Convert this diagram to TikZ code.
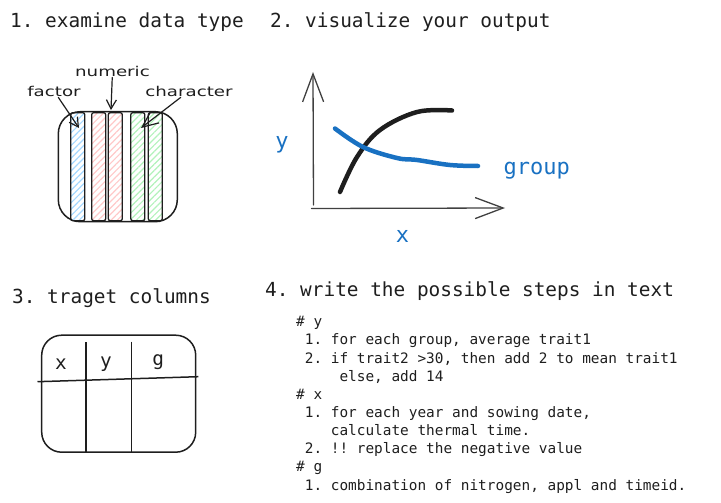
\documentclass[tikz,border=0pt]{standalone}
\usepackage{fontspec}
\setmonofont{DejaVu Sans Mono}
\newfontfamily\handfont[FakeStretch=1.35]{DejaVu Sans}
\usepackage{tikz}
\usetikzlibrary{positioning,arrows.meta,patterns.meta}
\definecolor{ink}{HTML}{1E1E1E}
\definecolor{groupblue}{HTML}{1971C2}
\definecolor{hatchblue}{HTML}{A5D8FF}
\definecolor{hatchred}{HTML}{FFC9C9}
\definecolor{hatchgreen}{HTML}{B2F2BB}

\begin{document}
\begin{tikzpicture}[
        x=1pt, y=-1pt,
        title/.style={anchor=base west, inner sep=0pt, text=ink,
          font=\ttfamily\fontsize{19.4}{23}\selectfont},
        code/.style={anchor=base west, inner sep=0pt, text=ink,
          font=\ttfamily\fontsize{14.4}{18}\selectfont},
        hand/.style={inner sep=1pt, text=ink,
          font=\handfont\fontsize{13.5}{15}\selectfont},
        bluelab/.style={anchor=base, inner sep=0pt, text=groupblue,
          font=\ttfamily\fontsize{22}{26}\selectfont},
        frame/.style={draw=ink, line width=1.5pt, inner sep=0pt},
        stripe/.style={
          draw=ink,
          line width=1.3pt,
          rounded corners=2pt,
          minimum width=14pt,
          minimum height=108pt,
          inner sep=0pt
        },
        arr/.style={draw=ink, line width=1.2pt, line cap=round,
          -{Straight Barb[length=9pt,width=10pt]}},
        axis/.style={draw=ink!85, line width=1.3pt, line cap=round,
          -{Straight Barb[length=28pt,width=21pt]}},
        curve/.style={line width=4.5pt, line cap=round, line join=round},
        rule/.style={ink, line width=1.5pt}
      ]
      \useasboundingbox (0,0) rectangle (721,503);

      % Titles
      \node[title] (t1) at (10,28)    {1. examine data type};
      \node[title] (t2) at (270,28)   {2. visualize your output};
      \node[title] (t3) at (12,303.5) {3. traget columns};
      \node[title] (t4) at (265,296)  {4. write the possible steps in text};

      % 1. data frame with typed columns
      \node[frame, rounded corners=22pt, minimum width=119pt, minimum height=110pt]
        (df) at (117.8,166.7) {};
      \foreach \cx/\col/\nm in {77.8/hatchblue/fac, 98.7/hatchred/numA,
          115.3/hatchred/numB, 137.8/hatchgreen/chrA, 155.3/hatchgreen/chrB}
        \node[stripe, pattern={Lines[angle=45,distance=4.5pt,line width=1.2pt]},
          pattern color=\col] (\nm) at (\cx,166.7) {};

      \node[hand] (factor)    at (54,91)    {factor};
      \node[hand] (numeric)   at (112.5,71) {numeric};
      \node[hand] (character) at (189,91)   {character};
      \coordinate (facTip) at (79,128);
      \coordinate (numTip) at (111,110);
      \coordinate (chrTip) at (141,128);
      \draw[arr] (factor) -- (facTip);
      \draw[arr] (numeric) -- (numTip);
      \draw[arr, -{Straight Barb[length=16pt,width=14pt]}] (character) -- (chrTip);

      % 2. sketch of the output plot
      \coordinate (yFoot)  at (313.5,205);
      \coordinate (yTop)   at (313,72);
      \coordinate (xLeft)  at (311.5,208.5);
      \coordinate (xRight) at (505,208);
      \draw[axis] (yFoot) -- (yTop);
      \draw[axis] (xLeft) -- (xRight);
      \draw[curve, ink] plot[smooth, tension=0.6]
        coordinates {(340,192) (357,157) (380,130) (417,112) (452,110.5)};
      \draw[curve, groupblue] plot[smooth, tension=0.6]
        coordinates {(335,128.5) (363,147) (397,158) (417,160) (450,165) (478,166)};
      \node[bluelab] (ylab) at (282,148) {y};
      \node[bluelab, anchor=base west] (grp) at (503.5,174) {group};
      \node[bluelab] (xlab) at (402.5,242) {x};

      % 3. target columns table
      \node[frame, rounded corners=20pt, minimum width=154pt, minimum height=117pt]
        (tbl) at (118.7,393.7) {};
      \coordinate (colA) at (86,342);
      \coordinate (colB) at (131.5,341.5);
      \coordinate (rowL) at (37.5,381.7);
      \coordinate (rowR) at (198.3,376.7);
      \draw[rule] (colA) -- (colA |- tbl.south);
      \draw[rule] (colB) -- (colB |- tbl.south);
      \draw[rule] (rowL) -- (rowR);
      \node[title, anchor=base] (cx) at (61,369)    {x};
      \node[title, anchor=base] (cy) at (106,367)   {y};
      \node[title, anchor=base] (cg) at (158.3,365) {g};

      % 4. steps in text
      \foreach \txt [count=\i from 0] in {
          {\# y},
          {~1. for each group, average trait1},
          {~2. if trait2 >30, then add 2 to mean trait1},
          {~~~~~else, add 14},
          {\# x},
          {~1. for each year and sowing date,},
          {~~~~calculate thermal time.},
          {~2. !! replace the negative value},
          {\# g},
          {~1. combination of nitrogen, appl and timeid.}}
        \node[code] (step\i) at (296,326.7+18.15*\i) {\txt};

    \end{tikzpicture}
\end{document}
